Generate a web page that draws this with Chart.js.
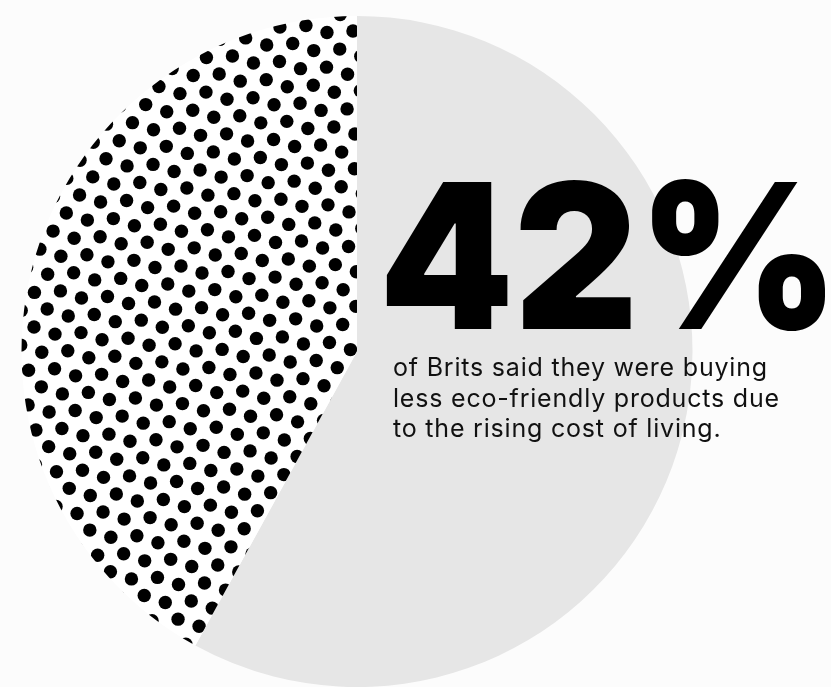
<!DOCTYPE html>
<html>
<head>
<meta charset="utf-8">
<script src="https://cdn.jsdelivr.net/npm/chart.js@4"></script>
<style>
  html, body { margin: 0; padding: 0; background: #fcfcfc; }
  .wrap { position: relative; width: 831px; height: 687px; overflow: hidden; }
  #pie { position: absolute; left: 0; top: 0; }
  .big {
    position: absolute; left: 0; top: 0;
    font-family: Inter, sans-serif; font-weight: 900;
    color: #000; white-space: nowrap; line-height: 1;
    transform-origin: 0 0;
  }
  .note {
    position: absolute; left: 393px; top: 352px; width: 430px;
    font-family: Inter, sans-serif; font-size: 25px; line-height: 30.5px;
    letter-spacing: 0.8px; color: #111; white-space: nowrap;
  }
</style>
</head>
<body>
<div class="wrap">
  <canvas id="pie" width="831" height="687"></canvas>
  <div class="big" id="big">42%</div>
  <div class="note">of Brits said they were buying<br>less eco-friendly products due<br>to the rising cost of living.</div>
</div>
<script>
  let labels = ['Not buying less', 'Buying less eco-friendly products'];
  let shares = [58, 42];

  // halftone dot texture for the 42% slice (page sized, so it lines up with the canvas)
  function dots() {
    let c = document.createElement('canvas');
    c.width = 831; c.height = 687;
    let g = c.getContext('2d');
    g.fillStyle = '#fff';
    g.fillRect(0, 0, c.width, c.height);
    g.fillStyle = '#000';
    let ox = 266.7, oy = 45;
    let P = [47.04, 5.59], Q = [-13.23, 18.07], d = [26, -1.5];
    for (let m = -40; m <= 40; m++) {
      for (let n = -10; n <= 60; n++) {
        let x = ox + m * P[0] + n * Q[0];
        let y = oy + m * P[1] + n * Q[1];
        [[x, y], [x + d[0], y + d[1]]].forEach(function(p) {
          if (p[0] < -10 || p[0] > 841 || p[1] < -10 || p[1] > 697) return;
          g.beginPath();
          g.arc(p[0], p[1], 6.7, 0, Math.PI * 2);
          g.fill();
        });
      }
    }
    return g.createPattern(c, 'no-repeat');
  }

  let ctx = document.getElementById('pie').getContext('2d');
  new Chart(ctx, {
    type: 'pie',
    data: {
      labels: labels,
      datasets: [{
        data: shares,
        backgroundColor: ['#e6e6e6', dots()],
        borderWidth: 0
      }]
    },
    options: {
      responsive: false,
      animation: false,
      layout: { padding: { left: 21, right: 138, top: 16, bottom: 0 } },
      plugins: { legend: { display: false }, tooltip: { enabled: false } }
    }
  });

  // fit the big number into its box
  let big = document.getElementById('big');
  let m = document.createElement('canvas').getContext('2d');
  m.font = '900 100px Inter';
  let mt = m.measureText('42%');
  let capH = mt.actualBoundingBoxAscent;
  let w = mt.actualBoundingBoxLeft + mt.actualBoundingBoxRight;
  let size = 100 * 150 / capH;
  let sx = 440 / (w * size / 100);
  big.style.fontSize = size + 'px';
  // baseline target y=330, left ink edge x=387
  let asc = mt.fontBoundingBoxAscent * size / 100;
  let desc = mt.fontBoundingBoxDescent * size / 100;
  let lineTop = 330 - asc - (size - asc - desc) / 2;
  big.style.top = lineTop + 'px';
  big.style.left = (387 + mt.actualBoundingBoxLeft * size / 100 * sx) + 'px';
  big.style.transform = 'scaleX(' + sx + ')';
</script>
</body>
</html>
